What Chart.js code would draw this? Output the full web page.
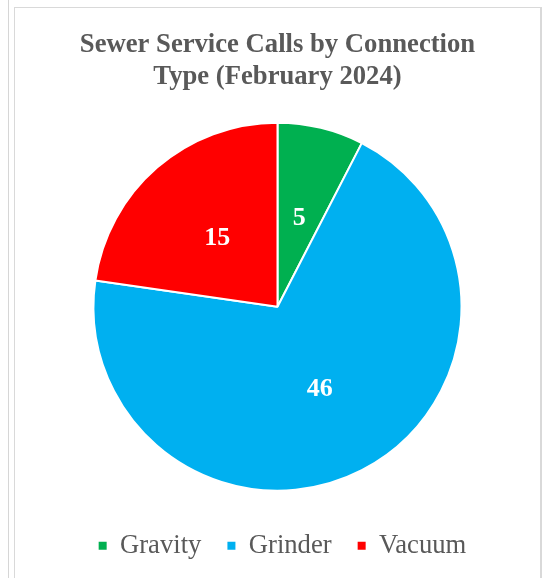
<!DOCTYPE html>
<html>
<head>
<meta charset="utf-8">
<title>Sewer Service Calls</title>
<script src="https://cdn.jsdelivr.net/npm/chart.js@4.4.1/dist/chart.umd.min.js"></script>
<style>
  html, body { margin: 0; padding: 0; background: #fff; overflow: hidden; }
  #rule { position: absolute; left: 8px; top: 0; width: 1px; height: 578px; background: #d6d6d6; }
  #frame {
    position: absolute; left: 14px; top: 7px; width: 525px; height: 580px;
    border-top: 1px solid #d9d9d9; border-left: 1px solid #d9d9d9; border-right: 2px solid #d9d9d9;
  }
  #wrap { position: absolute; left: 0; top: 0; width: 525px; height: 570px; }
</style>
</head>
<body>
<div id="rule"></div>
<div id="frame">
  <div id="wrap"><canvas id="grafico-chamadas"></canvas></div>
</div>
<script>
// Chamadas de serviço por tipo de ligação
const tipos = ['Gravity', 'Grinder', 'Vacuum'];
const chamadas = [5, 46, 15];
const cores = ['#00B050', '#00B0F0', '#FF0000'];
const tituloLinhas = ['Sewer Service Calls by Connection', 'Type (February 2024)'];

const fonteSerif = "'Liberation Serif', 'Times New Roman', serif";

// Escreve o valor de cada fatia no centro dela
const rotulosFatias = {
    id: 'rotulosFatias',
    afterDatasetsDraw(chart) {
        const ctx = chart.ctx;
        const meta = chart.getDatasetMeta(0);
        ctx.save();
        ctx.fillStyle = '#ffffff';
        ctx.font = 'bold 26px ' + fonteSerif;
        ctx.textAlign = 'center';
        ctx.textBaseline = 'middle';
        meta.data.forEach((arc, i) => {
            const pos = arc.tooltipPosition();
            ctx.fillText(String(chart.data.datasets[0].data[i]), pos.x, pos.y + 1);
        });
        ctx.restore();
    }
};

// Desloca a legenda um pouco para a direita
const ajusteLegenda = {
    id: 'ajusteLegenda',
    afterLayout(chart) {
        chart.legend.left += 5;
        chart.legend.right += 5;
    }
};

function gerarGraficoChamadas() {
    const ctx = document.getElementById('grafico-chamadas').getContext('2d');
    const labelsPadrao = Chart.overrides.pie.plugins.legend.labels.generateLabels;

    new Chart(ctx, {
        type: 'pie',
        data: {
            labels: tipos,
            datasets: [{
                data: chamadas,
                backgroundColor: cores,
                borderColor: '#ffffff',
                borderWidth: 2,
                radius: 184,
            }]
        },
        options: {
            responsive: true,
            maintainAspectRatio: false,
            animation: false,
            layout: {
                padding: { top: 0, bottom: 9, left: 0, right: 0 }
            },
            plugins: {
                title: {
                    display: true,
                    text: tituloLinhas,
                    color: '#595959',
                    font: { family: fonteSerif, size: 26.67, weight: 'bold', lineHeight: 1.2 },
                    padding: { top: 21, bottom: 14 },
                },
                legend: {
                    display: true,
                    position: 'bottom',
                    labels: {
                        color: '#595959',
                        font: { family: fonteSerif, size: 26.67 },
                        boxWidth: 8,
                        boxHeight: 8,
                        padding: 26,
                        // quadradinhos cheios, sem a borda branca das fatias
                        generateLabels(chart) {
                            return labelsPadrao(chart).map(item => ({ ...item, lineWidth: 0 }));
                        }
                    }
                },
                tooltip: { enabled: false },
            },
        },
        plugins: [rotulosFatias, ajusteLegenda]
    });
}

window.onload = function () {
    gerarGraficoChamadas();
};
</script>
</body>
</html>
